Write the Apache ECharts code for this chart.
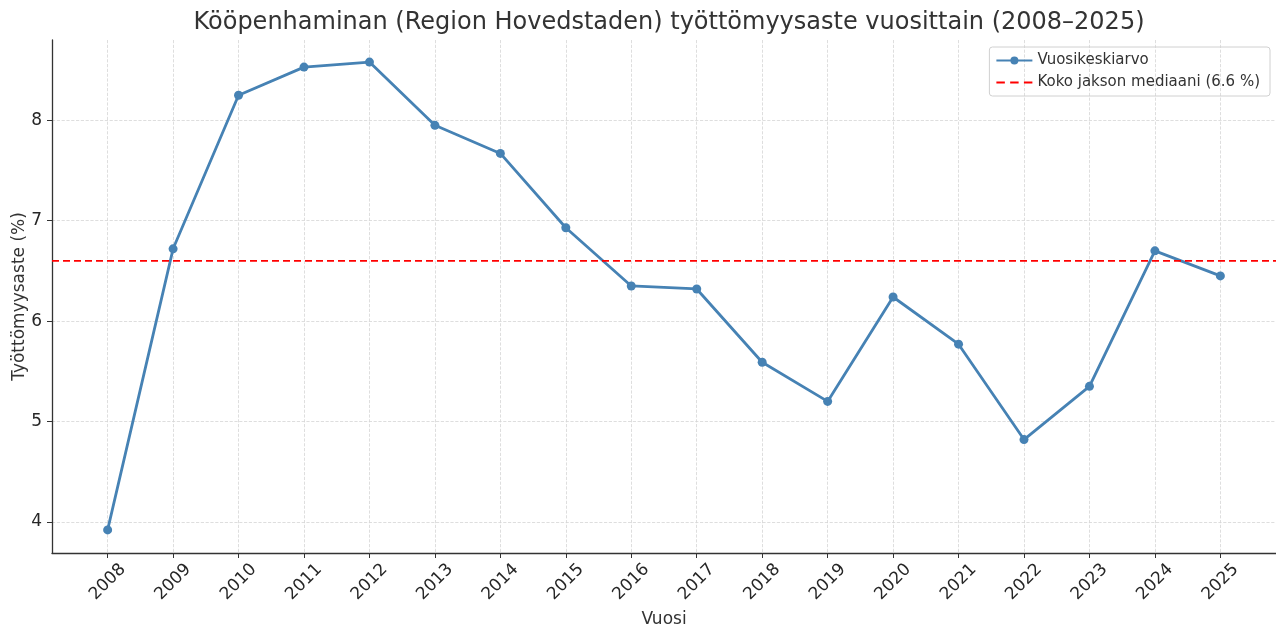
<!DOCTYPE html>
<html lang="fi">
<head>
    <meta charset="UTF-8">
    <script src="https://cdn.jsdelivr.net/npm/echarts@6/dist/echarts.min.js"></script>
    <title>Työttömyysaste</title>
</head>
<body style="margin:0;background:#fff;">
<div id="main" style="width:1276px;height:627px;"></div>
<script type="text/javascript">
    // vuodet ja vuosikeskiarvot (%)
    var years = [2008, 2009, 2010, 2011, 2012, 2013, 2014, 2015, 2016, 2017, 2018, 2019, 2020, 2021, 2022, 2023, 2024, 2025];
    var rates = [3.92, 6.72, 8.25, 8.53, 8.58, 7.95, 7.67, 6.93, 6.35, 6.32, 5.59, 5.20, 6.24, 5.77, 4.82, 5.35, 6.70, 6.45];
    var yTicks = [4, 5, 6, 7, 8];
    var median = 6.6;

    var xMin = 2007.15, xMax = 2025.85;
    var lineData = [];
    for (var i = 0; i < years.length; i++) {
        lineData.push([years[i], rates[i]]);
    }
    var font = 'DejaVu Sans';
    var grid = {type: 'dashed', color: '#d6d6d6', width: 0.8};

    var myChart = echarts.init(document.getElementById('main'));
    var option = {
        animation: false,
        textStyle: {fontFamily: font},
        title: {
            text: 'Kööpenhaminan (Region Hovedstaden) työttömyysaste vuosittain (2008–2025)',
            left: 664, top: 6, textAlign: 'center',
            textStyle: {fontFamily: font, fontSize: 24, fontWeight: 'normal', color: '#333'}
        },
        legend: {
            right: 6, top: 47, orient: 'vertical',
            borderColor: '#d0d0d0', borderWidth: 1, borderRadius: 3,
            padding: [6, 10, 6, 6], itemGap: 7, itemWidth: 36, itemHeight: 10,
            textStyle: {fontFamily: font, fontSize: 15, color: '#333'},
            data: [
                {name: 'Vuosikeskiarvo'},
                {name: 'Koko jakson mediaani (6.6 %)', icon: 'path://M0,0h8v2h-8z M13,0h8v2h-8z M26,0h8v2h-8z'}
            ]
        },
        grid: {left: 52, right: 0, top: 40, bottom: 74, outerBoundsMode: 'none'},
        xAxis: {
            type: 'value', min: xMin, max: xMax,
            name: 'Vuosi', nameLocation: 'middle', nameGap: 58, nameMoveOverlap: false,
            nameTextStyle: {fontFamily: font, fontSize: 17, color: '#333'},
            axisLine: {show: true, lineStyle: {color: '#333', width: 1.3}},
            axisTick: {show: true, customValues: years, length: 5, lineStyle: {color: '#333'}},
            axisLabel: {customValues: years, rotate: 45, fontSize: 17, color: '#262626', margin: 29,
                align: 'center', verticalAlign: 'middle',
                formatter: function (v) { return String(v); }},
            splitLine: {show: true, lineStyle: grid}
        },
        yAxis: {
            type: 'value', min: 3.69, max: 8.8,
            name: 'Työttömyysaste (%)', nameLocation: 'middle', nameGap: 24, nameMoveOverlap: false,
            nameTextStyle: {fontFamily: font, fontSize: 17, color: '#333'},
            axisLine: {show: true, lineStyle: {color: '#333', width: 1.3}},
            axisTick: {show: true, customValues: yTicks, length: 5, lineStyle: {color: '#333'}},
            axisLabel: {customValues: yTicks, fontSize: 17, color: '#262626', margin: 10},
            splitLine: {show: true, lineStyle: grid}
        },
        series: [
            {
                name: 'Vuosikeskiarvo', type: 'line', data: lineData,
                symbol: 'circle', symbolSize: 9,
                itemStyle: {color: '#4682b4'},
                lineStyle: {color: '#4682b4', width: 2.8}
            },
            {
                name: 'Koko jakson mediaani (6.6 %)', type: 'line',
                data: [[xMin, median], [xMax, median]],
                symbol: 'none', itemStyle: {color: '#ff0000'},
                lineStyle: {color: '#ff0000', width: 1.8, type: [7, 4]}
            }
        ]
    };
    myChart.setOption(option);
</script>
</body>
</html>
